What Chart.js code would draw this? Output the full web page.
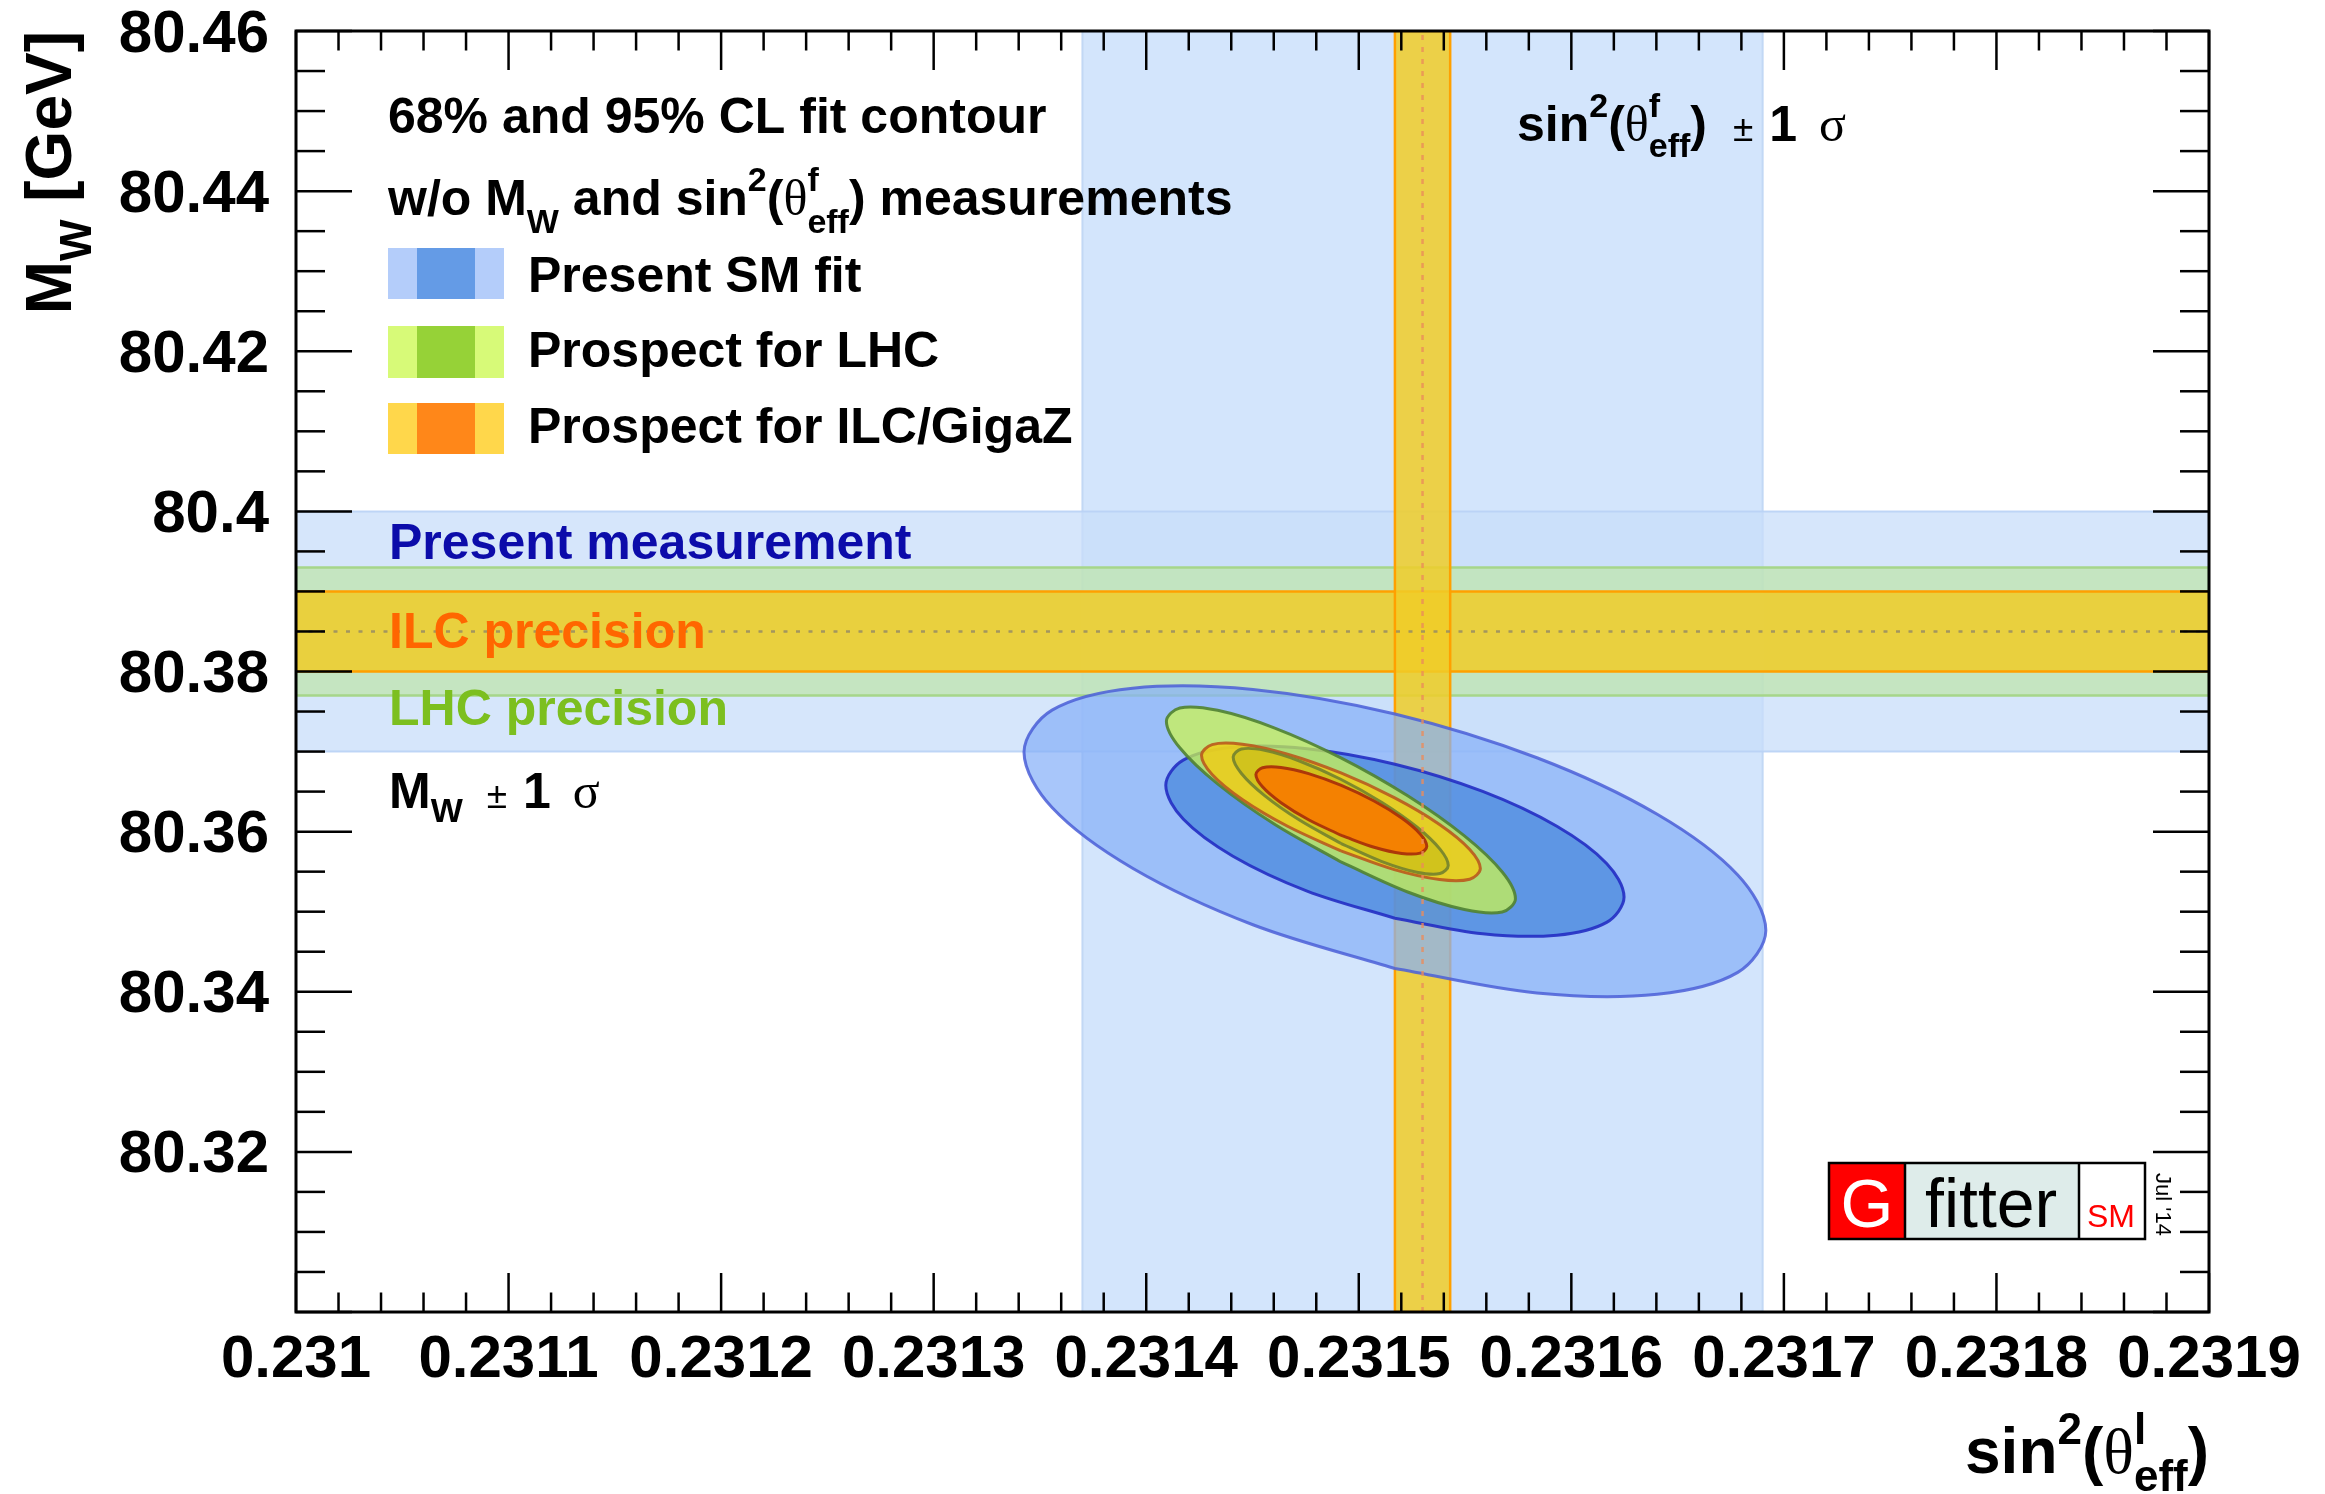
<!DOCTYPE html>
<html><head><meta charset="utf-8">
<script src="https://cdn.jsdelivr.net/npm/chart.js@4.4.1/dist/chart.umd.min.js"></script>
<style>html,body{margin:0;padding:0;background:#fff;}canvas{display:block;}</style>
</head><body>
<canvas id="c" width="2325" height="1494" style="width:2325px;height:1494px"></canvas>
<script>
// ---------- axes ----------
const xRange = [0.2310, 0.2319];
const yRange = [80.30, 80.46];
const xTickValues = [0.2310,0.2311,0.2312,0.2313,0.2314,0.2315,0.2316,0.2317,0.2318,0.2319];
const xTickLabels = ['0.231','0.2311','0.2312','0.2313','0.2314','0.2315','0.2316','0.2317','0.2318','0.2319'];
const yTickValues = [80.32,80.34,80.36,80.38,80.40,80.42,80.44,80.46];
const yTickLabels = ['80.32','80.34','80.36','80.38','80.4','80.42','80.44','80.46'];

// ---------- measurement bands ----------
const sinPresent = [0.23137, 0.23169];   // present sin2theta_eff +-1 sigma
const sinILC     = [0.231517, 0.231543]; // ILC/GigaZ precision
const sinCentral = 0.23153;
const mwPresent  = [80.370, 80.400];     // present MW +-1 sigma
const mwLHC      = [80.377, 80.393];     // LHC precision
const mwILC      = [80.380, 80.390];     // ILC precision
const mwCentral  = 80.385;

// ---------- fit contours (sin2theta, MW) ----------
const smFit95X = [0.2315170,0.2314502,0.2313936,0.2313557,0.2313425,0.2313557,0.2313936,0.2314502,0.2315170,0.2315838,0.2316404,0.2316783,0.2316915,0.2316783,0.2316404,0.2315838];
const smFit95Y = [80.34290,80.34837,80.35543,80.36301,80.36994,80.37518,80.37792,80.37776,80.37470,80.36923,80.36217,80.35459,80.34766,80.34242,80.33968,80.33984];
const smFit68X = [0.2315170,0.2314757,0.2314408,0.2314174,0.2314092,0.2314174,0.2314408,0.2314757,0.2315170,0.2315583,0.2315932,0.2316166,0.2316248,0.2316166,0.2315932,0.2315583];
const smFit68Y = [80.34918,80.35258,80.35693,80.36157,80.36578,80.36893,80.37053,80.37036,80.36842,80.36502,80.36067,80.35603,80.35182,80.34867,80.34707,80.34724];
const lhc95X = [0.2314916,0.2314602,0.2314336,0.2314158,0.2314095,0.2314158,0.2314336,0.2314602,0.2314916,0.2315230,0.2315497,0.2315675,0.2315737,0.2315675,0.2315497,0.2315230];
const lhc95Y = [80.35621,80.36095,80.36596,80.37047,80.37380,80.37545,80.37515,80.37296,80.36921,80.36447,80.35946,80.35495,80.35162,80.34997,80.35027,80.35246];
const lhc68X = [0.2314915,0.2314721,0.2314557,0.2314448,0.2314409,0.2314448,0.2314557,0.2314721,0.2314915,0.2315109,0.2315273,0.2315382,0.2315421,0.2315382,0.2315273,0.2315109];
const lhc68Y = [80.35854,80.36144,80.36450,80.36726,80.36931,80.37032,80.37015,80.36882,80.36654,80.36364,80.36058,80.35782,80.35578,80.35476,80.35493,80.35626];
const ilc95X = [0.2314916,0.2314665,0.2314452,0.2314310,0.2314260,0.2314310,0.2314452,0.2314665,0.2314916,0.2315167,0.2315380,0.2315522,0.2315572,0.2315522,0.2315380,0.2315167];
const ilc95Y = [80.35759,80.36067,80.36402,80.36714,80.36954,80.37087,80.37091,80.36967,80.36733,80.36425,80.36090,80.35778,80.35538,80.35405,80.35401,80.35525];
const ilc68X = [0.2314918,0.2314764,0.2314634,0.2314547,0.2314516,0.2314547,0.2314634,0.2314764,0.2314918,0.2315072,0.2315202,0.2315289,0.2315320,0.2315289,0.2315202,0.2315072];
const ilc68Y = [80.35953,80.36148,80.36361,80.36559,80.36713,80.36798,80.36802,80.36725,80.36577,80.36382,80.36169,80.35971,80.35817,80.35732,80.35728,80.35805];

const FONT = "'Liberation Sans', Arial, Helvetica, sans-serif";
const SERIF = "'Liberation Serif', 'DejaVu Serif', serif";
Chart.defaults.font.family = FONT;

function rect(x0, x1, y0, y1) {
  return [{x:x0,y:y0},{x:x0,y:y1},{x:x1,y:y1},{x:x1,y:y0},{x:x0,y:y0}];
}
function closed(xs, ys) {
  const p = xs.map((x, i) => ({x: x, y: ys[i]}));
  p.push({x: xs[0], y: ys[0]});
  return p;
}
function band(data, bg, border, bw, order) {
  return {data, backgroundColor: bg, borderColor: border, borderWidth: bw, fill: 'shape',
          showLine: true, tension: 0, pointRadius: 0, pointHitRadius: 0, order};
}
function contour(xs, ys, bg, border, order) {
  return {data: closed(xs, ys), backgroundColor: bg, borderColor: border, borderWidth: 3, fill: 'shape',
          showLine: true, tension: 0.34, pointRadius: 0, pointHitRadius: 0, order};
}
function line(data, color, dash, order) {
  return {data, borderColor: color, borderWidth: 2.5, borderDash: dash, fill: false,
          showLine: true, tension: 0, pointRadius: 0, pointHitRadius: 0, order};
}

const datasets = [
  band(rect(sinPresent[0], sinPresent[1], yRange[0], yRange[1]), '#d3e5fc', '#c2d8f5', 2, 30),
  band(rect(xRange[0], xRange[1], mwPresent[0], mwPresent[1]), 'rgba(200,222,250,0.75)', 'rgba(185,210,245,0.9)', 2, 29),
  band(rect(xRange[0], xRange[1], mwLHC[0], mwLHC[1]), 'rgba(190,228,170,0.72)', '#a6d68a', 2.5, 28),
  band(rect(xRange[0], xRange[1], mwILC[0], mwILC[1]), 'rgba(240,205,40,0.85)', '#ffa000', 2.5, 27),
  band(rect(sinILC[0], sinILC[1], yRange[0], yRange[1]), 'rgba(240,205,40,0.85)', '#ffa000', 2.5, 26),
  line([{x:xRange[0], y:mwCentral},{x:xRange[1], y:mwCentral}], 'rgba(150,140,100,0.85)', [4, 8.5], 25),
  contour(smFit95X, smFit95Y, 'rgba(134,176,248,0.72)', 'rgba(75,95,215,0.85)', 20),
  contour(smFit68X, smFit68Y, 'rgba(71,134,219,0.72)', 'rgba(35,45,195,0.9)', 19),
  contour(lhc95X, lhc95Y, 'rgba(205,246,76,0.72)', 'rgba(80,130,50,0.9)', 18),
  contour(ilc95X, ilc95Y, 'rgba(241,204,19,0.8)', 'rgba(185,90,30,0.9)', 17),
  contour(lhc68X, lhc68Y, 'rgba(150,160,0,0.25)', 'rgba(115,130,45,0.9)', 16),
  contour(ilc68X, ilc68Y, 'rgba(245,125,0,0.95)', 'rgba(170,50,10,0.95)', 15),
  line([{x:sinCentral, y:yRange[0]},{x:sinCentral, y:yRange[1]}], 'rgba(235,140,90,0.8)', [5, 7], 5)
];

function richRun(ctx, x, y, parts, draw) {
  let cx = x, stackX = 0, stackW = 0;
  for (const p of parts) {
    if (p.gap !== undefined) { cx += p.gap; continue; }
    ctx.font = (p.w || 'bold') + ' ' + p.s + 'px ' + (p.f || FONT);
    const w = ctx.measureText(p.t).width;
    let px = cx;
    if (p.stack === 'next') px = stackX;
    if (draw) { ctx.fillStyle = p.c || '#000'; ctx.fillText(p.t, px, y + (p.dy || 0)); }
    if (p.stack === 'start') { stackX = cx; stackW = w; cx = cx + w; }
    else if (p.stack === 'next') { cx = stackX + Math.max(stackW, w); }
    else cx = px + w;
  }
  return cx - x;
}

const overlay = {
  id: 'overlay',
  afterDraw(chart) {
    const ctx = chart.ctx, a = chart.chartArea, xs = chart.scales.x, ys = chart.scales.y;
    ctx.save();
    // ticks (inward, all four sides)
    ctx.strokeStyle = '#000'; ctx.lineWidth = 2.5; ctx.lineCap = 'butt';
    const seg = (x0, y0, x1, y1) => { ctx.beginPath(); ctx.moveTo(x0, y0); ctx.lineTo(x1, y1); ctx.stroke(); };
    for (let i = 0; i < xTickValues.length; i++) {
      const px = xs.getPixelForValue(xTickValues[i]);
      seg(px, a.bottom, px, a.bottom - 39); seg(px, a.top, px, a.top + 39);
      if (i < xTickValues.length - 1) {
        const st = (xTickValues[i + 1] - xTickValues[i]) / 5;
        for (let j = 1; j < 5; j++) {
          const q = xs.getPixelForValue(xTickValues[i] + j * st);
          seg(q, a.bottom, q, a.bottom - 19.5); seg(q, a.top, q, a.top + 19.5);
        }
      }
    }
    const yMaj = [yRange[0]].concat(yTickValues);
    for (let i = 0; i < yMaj.length; i++) {
      const py = ys.getPixelForValue(yMaj[i]);
      seg(a.left, py, a.left + 56, py); seg(a.right, py, a.right - 56, py);
      if (i < yMaj.length - 1) {
        const st = (yMaj[i + 1] - yMaj[i]) / 4;
        for (let j = 1; j < 4; j++) {
          const q = ys.getPixelForValue(yMaj[i] + j * st);
          seg(a.left, q, a.left + 29, q); seg(a.right, q, a.right - 29, q);
        }
      }
    }
    ctx.lineWidth = 3;
    ctx.strokeRect(a.left, a.top, a.right - a.left, a.bottom - a.top);

    ctx.textAlign = 'left'; ctx.textBaseline = 'alphabetic';
    // header texts
    richRun(ctx, 388, 133, [{t:'68% and 95% CL fit contour', s:50}], true);
    richRun(ctx, 388, 215, [
      {t:'w/o M', s:50}, {t:'W', s:34, dy:18}, {t:' and sin', s:50}, {t:'2', s:34, dy:-24},
      {t:'(', s:50}, {t:'\u03b8', s:50, w:'normal', f:SERIF},
      {t:'f', s:34, dy:-24, stack:'start'}, {t:'eff', s:34, dy:18, stack:'next'},
      {t:') measurements', s:50}], true);
    // legend
    const leg = [
      ['Present SM fit', '#b4cdfa', '#649be6', 248, 299, 292],
      ['Prospect for LHC', '#d7fa78', '#96d237', 326, 378, 367],
      ['Prospect for ILC/GigaZ', '#ffd74b', '#ff8719', 403, 454, 443]
    ];
    for (const L of leg) {
      ctx.fillStyle = L[1]; ctx.fillRect(388, L[3], 116, L[4] - L[3]);
      ctx.fillStyle = L[2]; ctx.fillRect(417, L[3], 58, L[4] - L[3]);
      richRun(ctx, 528, L[5], [{t:L[0], s:50}], true);
    }
    // band labels
    richRun(ctx, 389, 559, [{t:'Present measurement', s:50, c:'#0c0caa'}], true);
    richRun(ctx, 389, 648, [{t:'ILC precision', s:50, c:'#ff6600'}], true);
    richRun(ctx, 389, 725, [{t:'LHC precision', s:50, c:'#7cbf1f'}], true);
    richRun(ctx, 389, 808, [
      {t:'M', s:50}, {t:'W', s:34, dy:14}, {gap:24}, {t:'\u00b1', s:37, w:'normal'}, {gap:16},
      {t:'1', s:50}, {gap:22}, {t:'\u03c3', s:50, w:'normal', f:SERIF}], true);
    richRun(ctx, 1517, 141, [
      {t:'sin', s:50}, {t:'2', s:34, dy:-24}, {t:'(', s:50}, {t:'\u03b8', s:50, w:'normal', f:SERIF},
      {t:'f', s:34, dy:-24, stack:'start'}, {t:'eff', s:34, dy:16, stack:'next'}, {t:')', s:50},
      {gap:26}, {t:'\u00b1', s:37, w:'normal'}, {gap:16}, {t:'1', s:50}, {gap:22},
      {t:'\u03c3', s:50, w:'normal', f:SERIF}], true);

    // axis titles
    const xt = [{t:'sin', s:64}, {t:'2', s:44, dy:-29}, {t:'(', s:64}, {t:'\u03b8', s:64, w:'normal', f:SERIF},
                {t:'l', s:44, dy:-29, stack:'start'}, {t:'eff', s:44, dy:18, stack:'next'}, {t:')', s:64}];
    const xw = richRun(ctx, 0, 0, xt, false);
    richRun(ctx, a.right - xw, 1473, xt, true);
    const yt = [{t:'M', s:64}, {t:'W', s:44, dy:20}, {t:' [GeV]', s:64}];
    const yw = richRun(ctx, 0, 0, yt, false);
    ctx.save(); ctx.translate(71, a.top); ctx.rotate(-Math.PI / 2);
    richRun(ctx, -yw, 0, yt, true);
    ctx.restore();

    // Gfitter logo
    ctx.fillStyle = '#ff0000'; ctx.fillRect(1829, 1163, 76, 76);
    ctx.fillStyle = '#deecea'; ctx.fillRect(1905, 1163, 174, 76);
    ctx.fillStyle = '#ffffff'; ctx.fillRect(2079, 1163, 66, 76);
    ctx.strokeStyle = '#000'; ctx.lineWidth = 2.5;
    ctx.strokeRect(1829, 1163, 316, 76);
    seg(1905, 1163, 1905, 1239); seg(2079, 1163, 2079, 1239);
    ctx.textAlign = 'center';
    richRun(ctx, 1867, 1227, [{t:'G', s:68, w:'normal', c:'#ffffff'}], true);
    ctx.textAlign = 'left';
    ctx.font = 'normal 68px ' + FONT; ctx.fillStyle = '#000'; ctx.fillText('fitter', 1925, 1227);
    ctx.font = 'normal 32px ' + FONT; ctx.fillStyle = '#ff0000'; ctx.fillText('SM', 2087, 1227);
    ctx.save(); ctx.translate(2156, 1173); ctx.rotate(Math.PI / 2);
    ctx.font = 'normal 22px ' + FONT; ctx.fillStyle = '#000'; ctx.fillText("Jul '14", 0, 0);
    ctx.restore();
    ctx.restore();
  }
};

new Chart(document.getElementById('c'), {
  type: 'scatter',
  data: { datasets },
  options: {
    responsive: false, animation: false, devicePixelRatio: 1, events: [],
    layout: { padding: { top: 31, right: 116, left: 0, bottom: 0 } },
    plugins: { legend: { display: false }, tooltip: { enabled: false } },
    scales: {
      x: {
        type: 'linear', min: xRange[0], max: xRange[1],
        grid: { display: false, drawTicks: false }, border: { display: false },
        ticks: {
          stepSize: 0.0001, autoSkip: false, maxRotation: 0, minRotation: 0, padding: 12,
          color: '#000', font: { size: 60, weight: 'bold', family: FONT },
          callback: (v) => { const i = xTickValues.findIndex(t => Math.abs(t - v) < 1e-9); return i >= 0 ? xTickLabels[i] : ''; }
        },
        afterFit: (s) => { s.height = 182; s.paddingLeft = 0; s.paddingRight = 0; }
      },
      y: {
        type: 'linear', min: yRange[0], max: yRange[1],
        grid: { display: false, drawTicks: false }, border: { display: false },
        ticks: {
          stepSize: 0.02, autoSkip: false, padding: 27, labelOffset: 4,
          color: '#000', font: { size: 60, weight: 'bold', family: FONT },
          callback: (v) => { const i = yTickValues.findIndex(t => Math.abs(t - v) < 1e-6); return i >= 0 ? yTickLabels[i] : ''; }
        },
        afterFit: (s) => { s.width = 296; s.paddingTop = 0; s.paddingBottom = 0; }
      }
    }
  },
  plugins: [overlay]
});
</script>
</body></html>
